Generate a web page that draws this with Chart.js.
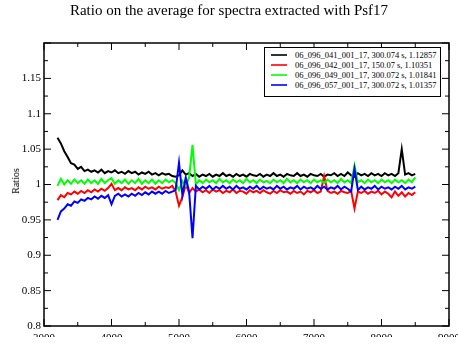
<!DOCTYPE html>
<html>
<head>
<meta charset="utf-8">
<script src="https://cdn.jsdelivr.net/npm/chart.js@4"></script>
<style>
  html, body { margin: 0; padding: 0; background: #fff; }
  #wrap { position: relative; width: 458px; height: 345px; overflow: hidden; font-family: "Liberation Serif", "Times New Roman", serif; color: #000; }
  #grafico { position: absolute; left: 0; top: 0; }
  #titulo { position: absolute; left: 0; top: 3px; width: 458px; text-align: center; font-size: 15px; line-height: 15px; white-space: nowrap; }
  #ylab { position: absolute; left: 15.5px; top: 181px; font-size: 10px; line-height: 10px; white-space: nowrap; transform: translate(-50%, -50%) rotate(-90deg); }
  #leyenda { position: absolute; left: 264px; top: 47px; width: 177px; height: 50px; border: 1px solid #000; background: #fff; box-sizing: border-box; padding-top: 2px; }
  .fila { position: relative; height: 10px; line-height: 10px; font-size: 8.5px; white-space: nowrap; }
  .fila .ln { position: absolute; left: 6px; top: 4px; width: 16px; height: 2px; opacity: 0.8; }
  .fila .txt { position: absolute; left: 30px; top: 0; }
</style>
</head>
<body>
<div id="wrap">
  <canvas id="grafico" width="458" height="337"></canvas>
  <div id="titulo">Ratio on the average for spectra extracted with Psf17</div>
  <div id="ylab">Ratios</div>
  <div id="leyenda"></div>
</div>
<script>
// ================= DATA =================
const wavelengths = [
  3200, 3250, 3300, 3350, 3400, 3450, 3500, 3550, 3600, 3650,
  3700, 3750, 3800, 3850, 3900, 3950, 4000, 4050, 4100, 4150,
  4200, 4250, 4300, 4350, 4400, 4450, 4500, 4550, 4600, 4650,
  4700, 4750, 4800, 4850, 4900, 4950, 5000, 5050, 5100, 5150,
  5200, 5250, 5300, 5350, 5400, 5450, 5500, 5550, 5600, 5650,
  5700, 5750, 5800, 5850, 5900, 5950, 6000, 6050, 6100, 6150,
  6200, 6250, 6300, 6350, 6400, 6450, 6500, 6550, 6600, 6650,
  6700, 6750, 6800, 6850, 6900, 6950, 7000, 7050, 7100, 7150,
  7200, 7250, 7300, 7350, 7400, 7450, 7500, 7550, 7600, 7650,
  7700, 7750, 7800, 7850, 7900, 7950, 8000, 8050, 8100, 8150,
  8200, 8250, 8300, 8350, 8400, 8450, 8500
];

const serieNames = [
  "06_096_041_001_17, 300.074 s, 1.12857",
  "06_096_042_001_17, 150.07 s, 1.10351",
  "06_096_049_001_17, 300.072 s, 1.01841",
  "06_096_057_001_17, 300.072 s, 1.01357"
];

const ratios041 = [
  1.066, 1.058, 1.047, 1.039, 1.030, 1.028, 1.022, 1.025, 1.019, 1.021,
  1.018, 1.020, 1.017, 1.021, 1.016, 1.019, 1.017, 1.020, 1.016, 1.018,
  1.015, 1.019, 1.016, 1.018, 1.014, 1.017, 1.015, 1.018, 1.014, 1.016,
  1.013, 1.016, 1.014, 1.015, 1.012, 1.011, 1.013, 1.020, 1.014, 1.016,
  1.012, 1.015, 1.011, 1.014, 1.012, 1.015, 1.011, 1.014, 1.012, 1.016,
  1.012, 1.014, 1.011, 1.015, 1.012, 1.014, 1.011, 1.015, 1.013, 1.012,
  1.015, 1.011, 1.014, 1.012, 1.016, 1.012, 1.014, 1.011, 1.015, 1.013,
  1.012, 1.016, 1.012, 1.014, 1.011, 1.015, 1.013, 1.012, 1.015, 1.011,
  1.014, 1.013, 1.016, 1.012, 1.015, 1.012, 1.017, 1.013, 1.011, 1.016,
  1.013, 1.015, 1.012, 1.016, 1.013, 1.015, 1.012, 1.016, 1.013, 1.015,
  1.012, 1.016, 1.050, 1.014, 1.016, 1.013, 1.015
];

const ratios042 = [
  0.978, 0.985, 0.982, 0.988, 0.986, 0.990, 0.987, 0.991, 0.988, 0.992,
  0.989, 0.993, 0.990, 0.994, 0.991, 0.995, 1.001, 0.992, 0.995, 0.992,
  0.996, 0.993, 0.995, 0.992, 0.996, 0.993, 0.997, 0.994, 0.996, 0.993,
  0.997, 0.994, 0.996, 0.995, 0.998, 0.990, 0.970, 0.982, 1.000, 0.988,
  0.995, 0.990, 0.993, 0.989, 0.992, 0.988, 0.993, 0.990, 0.992, 0.988,
  0.991, 0.989, 0.993, 0.988, 0.991, 0.990, 0.987, 0.992, 0.989, 0.991,
  0.988, 0.992, 0.989, 0.987, 0.991, 0.988, 0.992, 0.989, 0.990, 0.987,
  0.991, 0.988, 0.990, 0.986, 0.991, 0.989, 0.992, 0.988, 0.990, 1.012,
  0.991, 0.988, 0.990, 0.987, 0.991, 0.989, 0.988, 0.991, 0.966, 0.990,
  0.988, 0.991, 0.987, 0.990, 0.988, 0.991, 0.986, 0.990, 0.987, 0.982,
  0.990, 0.984, 0.989, 0.983, 0.988, 0.985, 0.989
];

const ratios049 = [
  0.998, 1.008, 1.000, 1.006, 1.001, 1.007, 1.002, 1.006, 1.001, 1.007,
  1.002, 1.006, 1.001, 1.008, 1.002, 1.006, 1.009, 1.001, 1.006, 1.002,
  1.007, 1.001, 1.006, 1.002, 1.008, 1.001, 1.006, 1.002, 1.007, 1.001,
  1.006, 1.002, 1.007, 1.003, 1.006, 1.002, 0.992, 1.005, 0.998, 1.010,
  1.056, 1.000, 1.006, 1.002, 1.007, 1.003, 1.006, 1.002, 1.008, 1.003,
  1.006, 1.002, 1.007, 1.003, 1.006, 1.002, 1.008, 1.003, 1.006, 1.002,
  1.007, 1.003, 1.005, 1.002, 1.007, 1.003, 1.006, 1.002, 1.008, 1.003,
  1.006, 1.002, 1.007, 1.003, 1.006, 1.002, 1.007, 1.003, 1.006, 1.002,
  1.007, 1.003, 1.006, 1.002, 1.008, 1.003, 1.006, 1.002, 1.027, 1.003,
  1.006, 1.002, 1.007, 1.003, 1.006, 1.002, 1.007, 1.003, 1.006, 1.002,
  1.007, 1.003, 1.006, 1.002, 1.007, 1.003, 1.010
];

const ratios057 = [
  0.950, 0.962, 0.966, 0.972, 0.970, 0.976, 0.974, 0.979, 0.977, 0.981,
  0.979, 0.983, 0.980, 0.984, 0.981, 0.985, 0.972, 0.984, 0.987, 0.983,
  0.986, 0.983, 0.987, 0.984, 0.988, 0.985, 0.989, 0.986, 0.990, 0.987,
  0.990, 0.987, 0.991, 0.988, 0.990, 0.992, 1.031, 0.985, 1.010, 0.990,
  0.924, 0.998, 0.993, 0.997, 0.994, 0.998, 0.993, 0.997, 0.994, 0.998,
  0.994, 0.997, 0.993, 0.998, 0.994, 0.996, 0.993, 0.997, 0.994, 0.998,
  0.993, 0.997, 0.994, 0.996, 0.993, 0.998, 0.994, 0.997, 0.993, 0.996,
  0.994, 0.998, 0.993, 0.997, 0.994, 0.996, 0.993, 0.998, 0.994, 0.997,
  0.993, 0.996, 0.994, 0.998, 0.993, 0.997, 0.994, 0.990, 1.022, 0.992,
  0.997, 0.993, 0.996, 0.994, 0.998, 0.993, 0.997, 0.994, 0.996, 0.993,
  0.997, 0.994, 0.998, 0.993, 0.996, 0.994, 0.997
];

const serieColors = ["#000000", "#ff0000", "#00ff00", "#0000ff"];
const serieValues = [ratios041, ratios042, ratios049, ratios057];

// ================= RENDER =================
const FUENTE = "'Liberation Serif', 'Times New Roman', serif";

// frame + inward ticks on all four sides (xmgrace style)
const marco = {
    id: "marco",
    afterDatasetsDraw(chart) {
        const { ctx, chartArea: a, scales: { x, y } } = chart;
        const raya = (x1, y1, x2, y2) => { ctx.beginPath(); ctx.moveTo(x1, y1); ctx.lineTo(x2, y2); ctx.stroke(); };
        ctx.save();
        ctx.strokeStyle = "#000";
        ctx.lineWidth = 1;
        x.ticks.forEach(t => {
            const p = x.getPixelForValue(t.value);
            raya(p, a.bottom, p, a.bottom - 7);
            raya(p, a.top, p, a.top + 7);
            if (t.value + 500 < x.max) {
                const m = x.getPixelForValue(t.value + 500);
                raya(m, a.bottom, m, a.bottom - 4);
                raya(m, a.top, m, a.top + 4);
            }
        });
        y.ticks.forEach(t => {
            const p = y.getPixelForValue(t.value);
            raya(a.left, p, a.left + 7, p);
            raya(a.right, p, a.right - 7, p);
            if (t.value + 0.025 < y.max - 1e-9) {
                const m = y.getPixelForValue(t.value + 0.025);
                raya(a.left, m, a.left + 4, m);
                raya(a.right, m, a.right - 4, m);
            }
        });
        ctx.lineWidth = 1.5;
        ctx.strokeRect(a.left, a.top, a.right - a.left, a.bottom - a.top);
        ctx.restore();
    }
};

const datasets = serieValues.map((vals, i) => ({
    label: serieNames[i],
    data: wavelengths.map((w, k) => ({ x: w, y: vals[k] })),
    borderColor: serieColors[i],
    borderWidth: 2,
    pointRadius: 0,
    tension: 0,
    order: serieValues.length - i
}));

new Chart(document.getElementById("grafico"), {
    type: "line",
    data: { datasets },
    options: {
        responsive: false,
        animation: false,
        events: [],
        layout: { padding: { top: 43, right: 9, left: 0, bottom: 0 } },
        plugins: { legend: { display: false }, title: { display: false }, tooltip: { enabled: false } },
        scales: {
            x: {
                type: "linear",
                min: 3000,
                max: 9000,
                grid: { display: false, drawTicks: false },
                border: { display: false },
                ticks: {
                    stepSize: 1000,
                    padding: 6,
                    maxRotation: 0,
                    autoSkip: false,
                    color: "#000",
                    font: { family: FUENTE, size: 11 },
                    callback: v => String(v)
                },
                afterFit(s) { s.height = 11; s.paddingLeft = 0; s.paddingRight = 0; }
            },
            y: {
                min: 0.8,
                max: 1.2,
                grid: { display: false, drawTicks: false },
                border: { display: false },
                ticks: {
                    stepSize: 0.05,
                    padding: 3,
                    color: "#000",
                    font: { family: FUENTE, size: 11 },
                    callback: v => Math.abs(v - 1.2) < 1e-6 ? "" : String(+v.toFixed(2))
                },
                afterFit(s) { s.width = 44; s.paddingTop = 0; s.paddingBottom = 0; }
            }
        }
    },
    plugins: [marco]
});

// legend box inside the plot (top right)
document.getElementById("leyenda").innerHTML = serieNames.map((n, i) => `
    <div class="fila"><span class="ln" style="background:${serieColors[i]}"></span><span class="txt">${n}</span></div>
`).join("");
</script>
</body>
</html>
